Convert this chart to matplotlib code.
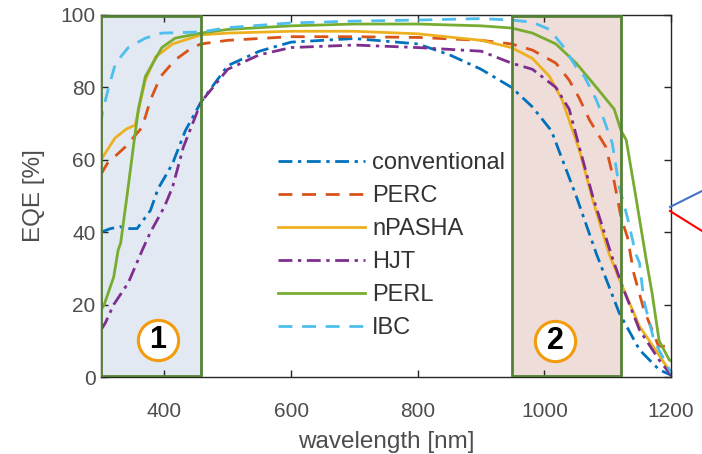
import matplotlib
matplotlib.use("Agg")
import matplotlib.pyplot as plt
from matplotlib.lines import Line2D

plt.rcParams['font.family'] = ['Liberation Sans', 'DejaVu Sans']

# EQE curves per cell technology (wavelength in nm, EQE in %)
conv_wl = [300, 315, 330, 345, 357, 378, 390, 400, 413, 433, 458, 500, 550, 600, 700, 800, 850, 900, 948, 981, 1011, 1050, 1082, 1118, 1150, 1181, 1200]
conv_eqe = [40, 41, 41.5, 41, 41, 46, 52, 55, 59, 68, 76, 86, 90, 92.5, 93.5, 92, 89, 85, 80, 74.6, 68, 50, 34, 17.7, 7.5, 2, 0.5]

perc_wl = [300, 310, 338, 365, 378, 394, 417, 444, 458, 500, 600, 700, 800, 900, 948, 981, 1018, 1039, 1055, 1071, 1097, 1110, 1121, 1131, 1141, 1157, 1170, 1180, 1195, 1200]
perc_eqe = [56, 59, 63.5, 69, 76.5, 83, 87.6, 91, 92, 93, 94, 94, 93.8, 93, 92, 90.3, 86.7, 82, 77, 71, 63.5, 54, 44, 38.6, 28.6, 18.5, 13, 8.5, 8.5, 8]

npasha_wl = [300, 322, 340, 354, 362, 370, 386, 413, 458, 500, 600, 700, 800, 900, 948, 981, 1008, 1028, 1055, 1076, 1102, 1123, 1150, 1181, 1200]
npasha_eqe = [60, 66, 68.5, 69.6, 76, 82, 88.4, 92, 94.5, 95, 95.5, 95.5, 94.8, 93, 91, 88, 83, 76.5, 62.7, 49, 34, 25, 14, 6, 1]

hjt_wl = [300, 307, 320, 343, 365, 378, 400, 413, 430, 458, 500, 550, 600, 700, 800, 900, 948, 981, 1018, 1039, 1055, 1076, 1107, 1123, 1150, 1181, 1200]
hjt_eqe = [13, 15, 20, 26, 35, 40, 47, 52.5, 63.5, 76, 85, 89, 91, 91.7, 91, 90, 86.7, 85, 80, 74, 63.5, 50, 33, 25, 13, 4.7, 0.5]

perl_wl = [300, 305, 320, 327, 331, 341, 351, 359, 370, 396, 417, 458, 500, 600, 700, 800, 900, 948, 981, 1018, 1050, 1082, 1110, 1121, 1129, 1144, 1160, 1170, 1181, 1197, 1200]
perl_eqe = [18.5, 20, 27.6, 35, 37, 50, 63.5, 74, 83, 91, 93.6, 95, 96, 97, 97.5, 97.5, 97, 96.4, 95, 92, 86.7, 80, 74, 68, 65.5, 50, 33, 23, 10, 4.7, 4.5]

ibc_wl = [300, 302, 312, 323, 343, 370, 396, 458, 500, 600, 700, 800, 900, 948, 981, 1008, 1031, 1050, 1063, 1082, 1094, 1107, 1118, 1131, 1144, 1150, 1157, 1173, 1192, 1200]
ibc_eqe = [69.6, 73, 80, 86.7, 91, 93.6, 95, 95.3, 96.5, 97.8, 98.3, 98.6, 99, 98.6, 98, 96, 91, 85.6, 83, 76.5, 71, 64.6, 52.5, 44, 34, 31.5, 21, 10, 3.8, 1]

labels = ['conventional', 'PERC', 'nPASHA', 'HJT', 'PERL', 'IBC']
colors = ['#0072BD', '#D95319', '#EDB120', '#7E2F8E', '#77AC30', '#4DBEEE']
styles = [(0, (5, 2, 1.2, 2)), (0, (5, 3.5)), '-', (0, (5, 2, 1.2, 2)), '-', (0, (5, 3.5))]

# highlighted spectral ranges and their numbered tags
region_bounds = [(300, 458), (948, 1120)]
region_fills = ['#E2E9F3', '#EFDDDA']
region_tags = ['1', '2']
region_tag_x = [390, 1017]
region_tag_y = [10.2, 10]

fig = plt.figure(figsize=(7.02, 4.54), dpi=100)
ax = fig.add_axes([0.1439, 0.1696, 0.8122, 0.7974])

for (lo, hi), fc in zip(region_bounds, region_fills):
    ax.axvspan(lo, hi, facecolor=fc, edgecolor='none', zorder=0)

series = [(conv_wl, conv_eqe), (perc_wl, perc_eqe), (npasha_wl, npasha_eqe),
          (hjt_wl, hjt_eqe), (perl_wl, perl_eqe), (ibc_wl, ibc_eqe)]
for (wl, eqe), lab, c, ls in zip(series, labels, colors, styles):
    ax.plot(wl, eqe, color=c, linestyle=ls, lw=2, label=lab, zorder=2)

# green frames on top of the curves
for lo, hi in region_bounds:
    ax.axvspan(lo, hi, ymin=0.004, ymax=0.996, facecolor='none', edgecolor='#548235', lw=2, zorder=4)

for tag, tx, ty in zip(region_tags, region_tag_x, region_tag_y):
    ax.plot(tx, ty, marker='o', markersize=29, markerfacecolor='white',
            markeredgecolor='#F39B0B', markeredgewidth=2.2, zorder=5)
    ax.text(tx, ty, tag, ha='center', va='center', fontsize=22, fontweight='bold',
            color='black', zorder=6)

ax.set_xlim(300, 1200)
ax.set_ylim(0, 100)
ax.set_xticks([400, 600, 800, 1000, 1200])
ax.set_yticks([0, 20, 40, 60, 80, 100])
ax.tick_params(direction='in', length=5, width=1, top=True, right=True,
               labelsize=15, colors='#262626', labelcolor='#4d4d4d')
ax.tick_params(axis='x', pad=18)
ax.tick_params(axis='y', pad=4)
for sp in ax.spines.values():
    sp.set_color('#262626')
    sp.set_linewidth(1)

ax.set_xlabel('wavelength [nm]', fontsize=17.5, color='#4d4d4d', labelpad=7)
ax.set_ylabel('EQE [%]', fontsize=17.5, color='#4d4d4d', labelpad=11)

leg = ax.legend(loc='center left', bbox_to_anchor=(0.273, 0.363), frameon=False,
                fontsize=17, handlelength=3.7, handletextpad=0.3, labelspacing=0.47)
for t in leg.get_texts():
    t.set_color('#333333')

# pointer lines leaving the plot on the right
fig.add_artist(Line2D([670 / 702, 1.0], [1 - 207 / 454, 1 - 191 / 454], color='#4472C4', lw=1.5))
fig.add_artist(Line2D([670 / 702, 1.0], [1 - 211 / 454, 1 - 231 / 454], color='#FF0000', lw=1.5))

fig.savefig('out.png', dpi=100)
